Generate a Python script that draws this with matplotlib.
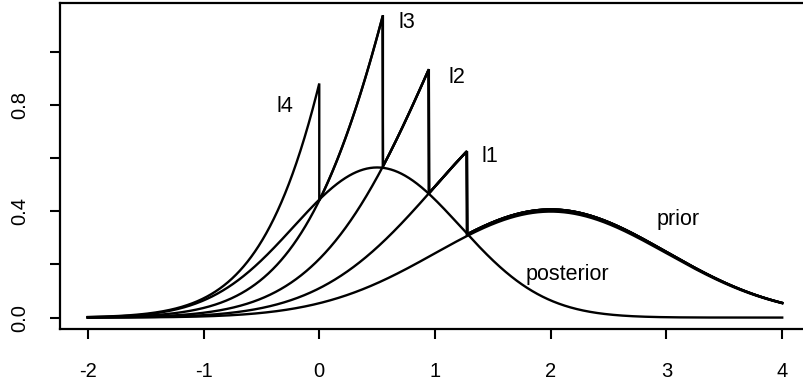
import numpy as np
import matplotlib
matplotlib.use("Agg")
import matplotlib.pyplot as plt

# ---- values ----
prior_mean = 2.0
prior_sd = 1.0
base_scale = 1.02          # l-curves to the right of their cut-offs (slightly above prior)
post_peak = 0.565
post_mean = 0.5
post_sd = 0.72
cutoffs = [1.276, 0.947, 0.55, 0.0]   # l1, l2, l3, l4
jump_factor = 2.0
curve_labels = ["l1", "l2", "l3", "l4"]
label_x = [1.474, 1.189, 0.757, -0.297]
label_y = [0.605, 0.905, 1.112, 0.793]
x_ticks = [-2, -1, 0, 1, 2, 3, 4]
y_ticks = [0.0, 0.2, 0.4, 0.6, 0.8, 1.0]
y_ticklabels = ["0.0", "", "0.4", "", "0.8", ""]
x_range = (-2.0, 4.0)

plt.rcParams['font.family'] = ['Liberation Sans', 'DejaVu Sans']

fig = plt.figure(figsize=(8.04, 3.87), dpi=100)
ax = fig.add_axes([60/804, (387-329)/387, 750/804, 326/387])

def prior(x):
    return np.exp(-0.5*((x-prior_mean)/prior_sd)**2)/(prior_sd*np.sqrt(2*np.pi))

lw = 1.7
x = np.linspace(x_range[0], x_range[1], 1201)
ax.plot(x, prior(x), color='black', lw=lw)
ax.plot(x, post_peak*np.exp(-0.5*((x-post_mean)/post_sd)**2), color='black', lw=lw)

n = 800
for k in range(len(cutoffs)):
    cuts = cutoffs[:k+1]
    t = cuts[-1]
    xl = np.linspace(x_range[0], t, n)
    xr = np.linspace(t, x_range[1], n)
    fl = np.full(n, base_scale)
    fr = np.full(n, base_scale)
    for c in cuts:
        fl = np.where(xl <= c, fl*jump_factor, fl)
        fr = np.where(xr < c, fr*jump_factor, fr)
    xs = np.concatenate([xl, xr])
    ys = np.concatenate([fl*prior(xl), fr*prior(xr)])
    ax.plot(xs, ys, color='black', lw=lw, solid_joinstyle='miter')

for lab, lx, ly in zip(curve_labels, label_x, label_y):
    ax.text(lx, ly, lab, fontsize=15.5, ha='center', va='center')
ax.text(3.099, 0.368, "prior", fontsize=15.5, ha='center', va='center')
ax.text(2.14, 0.162, "posterior", fontsize=15.5, ha='center', va='center')

ax.set_xlim(-2.24, 4.24)
ax.set_ylim(-0.043, 1.184)
ax.set_xticks(x_ticks)
ax.set_xticklabels([str(v) for v in x_ticks])
ax.set_yticks(y_ticks)
ax.set_yticklabels(y_ticklabels, rotation=90, va='center')
ax.tick_params(axis='both', direction='out', length=7, width=1.5, labelsize=14.5)
ax.tick_params(axis='x', pad=17)
ax.tick_params(axis='y', pad=15)
for s in ax.spines.values():
    s.set_linewidth(1.6)

fig.savefig("out.png", dpi=100)
